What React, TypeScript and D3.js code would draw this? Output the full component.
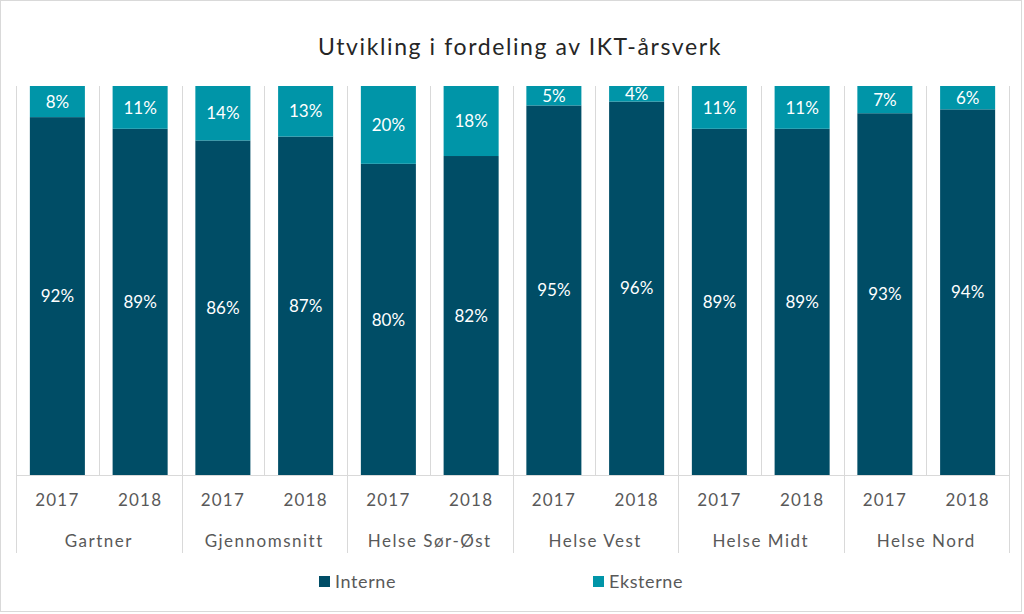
import React from "react";
import * as d3 from "d3";

const groups = ["Gartner", "Gjennomsnitt", "Helse Sør-Øst", "Helse Vest", "Helse Midt", "Helse Nord"];
const years = ["2017", "2018"];
const interne = [92, 89, 86, 87, 80, 82, 95, 96, 89, 89, 93, 94];
const eksterne = [8, 11, 14, 13, 20, 18, 5, 4, 11, 11, 7, 6];
const seriesNames = ["Interne", "Eksterne"];
const colors = ["#004d66", "#0095a8"];

const W = 1024;
const H = 614;
const FONT = "Lato, 'Open Sans', sans-serif";

export default function App() {
  const left = 16;
  const right = 1009;
  const top = 86;
  const bottom = 475;
  const cats = groups.flatMap((g) => years.map((y) => `${g}|${y}`));
  const x = d3.scaleBand<string>().domain(cats).range([left, right]).paddingInner(0.335).paddingOuter(0.1675);
  const step = x.step();
  const y = d3.scaleLinear().domain([0, 100]).range([bottom, top]);
  const stacked = d3.stack<any>().keys(["i", "e"])(cats.map((c, k) => ({ c, i: interne[k], e: eksterne[k] })));
  const gw = (right - left) / groups.length;

  return (
    <div style={{ position: "absolute", left: 0, top: 0 }}>
      <svg width={W} height={H} style={{ display: "block", background: "#fff" }} fontFamily={FONT}>
        <rect x={0.5} y={0.5} width={1021} height={611} fill="#fff" stroke="#d9d9d9" />
        <text x={520} y={55} textAnchor="middle" fontSize={23} fill="#262626" letterSpacing={1.6}>
          Utvikling i fordeling av IKT-årsverk
        </text>
        {d3.range(cats.length + 1).map((k) => {
          const xx = Math.round(left + k * step) + 0.5;
          const isGroup = k % 2 === 0;
          return (
            <line key={k} x1={xx} x2={xx} y1={top} y2={isGroup ? 553 : bottom} stroke="#d9d9d9" strokeWidth={1} />
          );
        })}
        <line x1={left} x2={right} y1={bottom + 0.5} y2={bottom + 0.5} stroke="#d9d9d9" />
        {stacked.map((s, si) => (
          <g key={si}>
            {s.map((d, k) => (
              <rect
                key={k}
                x={x(cats[k])}
                width={x.bandwidth()}
                y={y(d[1])}
                height={y(d[0]) - y(d[1])}
                fill={colors[si]}
              />
            ))}
            {s.map((d, k) => (
              <text
                key={"t" + k}
                x={(x(cats[k]) as number) + x.bandwidth() / 2}
                y={(y(d[0]) + y(d[1])) / 2}
                dy="0.36em"
                textAnchor="middle"
                fontSize={17}
                fill="#fff"
              >
                {`${d[1] - d[0]}%`}
              </text>
            ))}
          </g>
        ))}
        {cats.map((c, k) => (
          <text
            key={c}
            x={(x(c) as number) + x.bandwidth() / 2}
            y={500}
            dy="0.36em"
            textAnchor="middle"
            fontSize={17}
            letterSpacing={1.2}
            fill="#595959"
          >
            {c.split("|")[1]}
          </text>
        ))}
        {groups.map((g, k) => (
          <text
            key={g}
            x={left + gw * (k + 0.5)}
            y={541}
            dy="0.36em"
            textAnchor="middle"
            fontSize={17}
            letterSpacing={1.5}
            fill="#595959"
          >
            {g}
          </text>
        ))}
        {seriesNames.map((n, k) => {
          const lx = k === 0 ? 319 : 593;
          return (
            <g key={n}>
              <rect x={lx} y={576} width={11} height={11} fill={colors[k]} />
              <text x={lx + 16} y={582} dy="0.36em" fontSize={18} letterSpacing={0.6} fill="#595959">
                {n}
              </text>
            </g>
          );
        })}
      </svg>
    </div>
  );
}
